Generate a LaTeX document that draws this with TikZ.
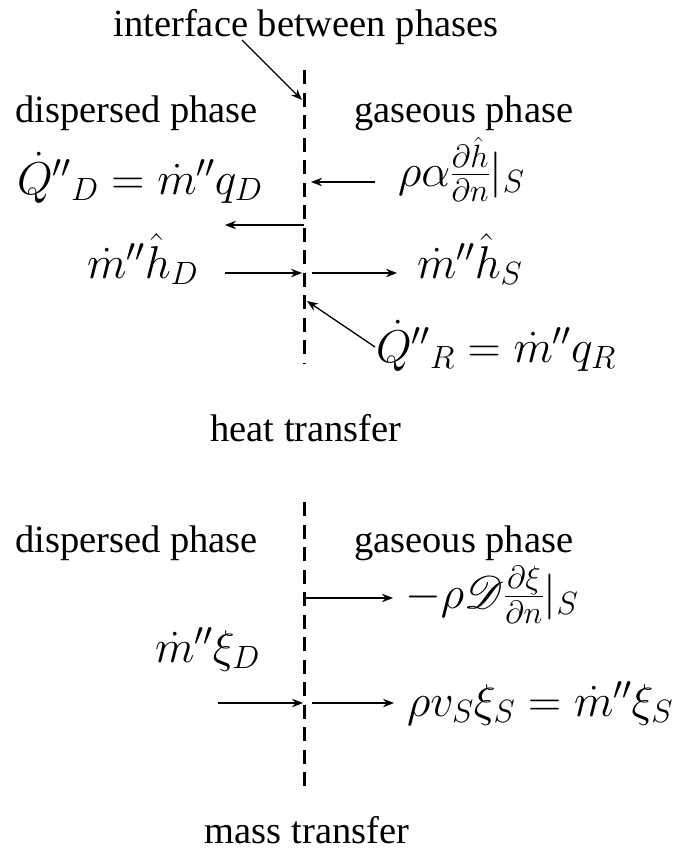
\RequirePackage{fix-cm}
\documentclass[tikz,border=0pt]{standalone}
\usepackage{amsmath}
\DeclareFontFamily{U}{rsfs}{\skewchar\font127 }
\DeclareFontShape{U}{rsfs}{m}{n}{<-6> rsfs5 <6-8> rsfs7 <8-> rsfs10}{}
\usepackage{mathrsfs}
\usepackage[no-math]{fontspec}
\setmainfont{Liberation Serif}
\usetikzlibrary{arrows.meta, positioning}

\begin{document}
\begin{tikzpicture}[
  x=1pt, y=-1pt,
  txt/.style={font=\fontsize{38.5}{46}\selectfont, inner sep=0pt, anchor=base west},
  eq/.style={font=\fontsize{46}{54}\selectfont, inner sep=0pt, anchor=base west},
  iface/.style={line width=3pt, dash pattern=on 14pt off 8.5pt},
  fl/.style={-{Stealth[length=11pt, width=8.5pt]}, line width=1.3pt}
]
\useasboundingbox (0,0) rectangle (681,852);

% heat transfer
\node[txt, anchor=base] (ifc) at (306,36) {interface between phases};
\node[txt] (dispH) at (15,122) {dispersed phase};
\node[txt] (gasH) at (354,122) {gaseous phase};
\node[eq] (qD) at (17,194) {$\dot{Q}''{}_D=\dot{m}''q_D$};
\node[eq] (condS) at (398,186) {$\rho\alpha\frac{\partial\hat{h}}{\partial n}|_S$};
\node[eq] (hD) at (87,278) {$\dot{m}''\hat{h}_D$};
\node[eq] (hS) at (417,278) {$\dot{m}''\hat{h}_S$};
\node[eq] (qR) at (376,362) {$\dot{Q}''{}_R=\dot{m}''q_R$};
\node[txt, anchor=base] (heat) at (306,441) {heat transfer};

\coordinate (ifcTop) at (304,70);
\coordinate (ifcBot) at (304,363);
\draw[iface] (ifcTop) -- (ifcBot);

\coordinate (pS) at (242,40);
\coordinate (pE) at (302,100);
\draw[fl] (pS) -- (pE);
\coordinate (c1) at (375,182);
\coordinate (c2) at (311,182);
\draw[fl] (c1) -- (c2);
\coordinate (d1) at (304,225);
\coordinate (d2) at (225,225);
\draw[fl] (d1) -- (d2);
\coordinate (h1) at (225,273);
\coordinate (h2) at (302,273);
\coordinate (h3) at (312,273);
\coordinate (h4) at (397,273);
\draw[fl] (h1) -- (h2);
\draw[fl] (h3) -- (h4);
\coordinate (r1) at (375,347);
\coordinate (r2) at (307,301);
\draw[fl] (r1) -- (r2);

% mass transfer
\node[txt] (dispM) at (15,552) {dispersed phase};
\node[txt] (gasM) at (354,552) {gaseous phase};
\node[eq] (diffS) at (405,608) {$-\rho\mathscr{D}\frac{\partial\xi}{\partial n}|_S$};
\node[eq] (xiD) at (155,662) {$\dot{m}''\xi_D$};
\node[eq] (convS) at (407,716) {$\rho v_S\xi_S=\dot{m}''\xi_S$};
\node[txt, anchor=base] (mass) at (307,843) {mass transfer};

\coordinate (mTop) at (304,502);
\coordinate (mBot) at (304,793);
\draw[iface] (mTop) -- (mBot);

\coordinate (m1) at (305,598);
\coordinate (m2) at (393,598);
\draw[fl] (m1) -- (m2);
\coordinate (x1) at (218,703);
\coordinate (x2) at (303,703);
\coordinate (x3) at (312,703);
\coordinate (x4) at (394,703);
\draw[fl] (x1) -- (x2);
\draw[fl] (x3) -- (x4);
\end{tikzpicture}
\end{document}
